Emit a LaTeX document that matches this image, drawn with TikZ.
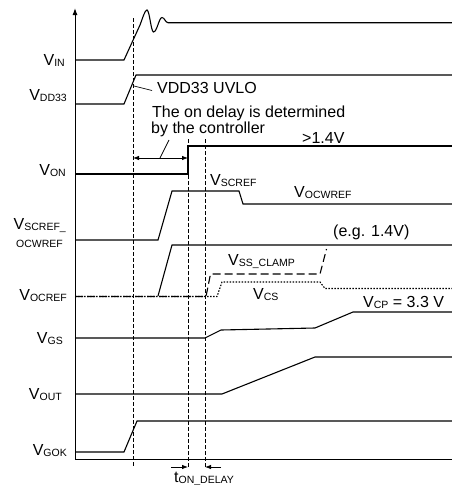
\documentclass[tikz,border=0pt]{standalone}
\usepackage{fontspec}
\setmainfont{Liberation Sans}
\usetikzlibrary{arrows.meta}
\newcommand{\lsb}[1]{\raisebox{-1.8pt}{\fontsize{10.5}{12}\selectfont #1}}
\begin{document}
\begin{tikzpicture}[x=1pt,y=-1pt,
  sig/.style={line width=1.1pt, line join=miter},
  axisline/.style={line width=1pt},
  guide/.style={line width=0.7pt, dash pattern=on 4pt off 2pt},
  clampline/.style={line width=1.1pt, dash pattern=on 8pt off 4pt},
  csline/.style={line width=1.1pt, dash pattern=on 1.5pt off 1.5pt},
  thin/.style={line width=0.7pt},
  arr/.style={line width=0.8pt, -{Latex[length=6pt,width=4.5pt]}},
  darr/.style={line width=0.8pt, {Latex[length=6pt,width=4.5pt]}-{Latex[length=6pt,width=4.5pt]}},
  lbl/.style={inner sep=0pt, font=\fontsize{16}{18}\selectfont},
  slbl/.style={inner sep=0pt, font=\fontsize{10.5}{12}\selectfont}]
\useasboundingbox (0,0) rectangle (452,485);

% axes
\coordinate (o) at (75,459);
\coordinate (top) at (75,8);
\coordinate (xr) at (452,459);
\draw[axisline,-{Latex[length=7pt,width=5pt]}] (o) -- (top);
\draw[axisline] (o) -- (xr);

% guide lines
\coordinate (g1t) at (133,18);  \coordinate (g1b) at (133,467);
\coordinate (g2t) at (188,139); \coordinate (g2b) at (188,468);
\coordinate (g3t) at (205,139); \coordinate (g3b) at (205,468);
\draw[guide] (g1t) -- (g1b);
\draw[guide] (g2t) -- (g2b);
\draw[guide] (g3t) -- (g3b);

% left labels
\node[lbl,anchor=base east] (lin) at (65,65) {V\lsb{IN}};
\node[lbl,anchor=base east] (ldd) at (67,100) {V\lsb{DD33}};
\node[lbl,anchor=base east] (lon) at (66,175) {V\lsb{ON}};
\node[lbl,anchor=base east] (lsc) at (66,229) {V\lsb{SCREF\_}};
\node[slbl,anchor=base east] (lsc2) at (63,247) {OCWREF};
\node[lbl,anchor=base east] (loc) at (67,300) {V\lsb{OCREF}};
\node[lbl,anchor=base east] (lgs) at (63,343) {V\lsb{GS}};
\node[lbl,anchor=base east] (lout) at (62,399) {V\lsb{OUT}};
\node[lbl,anchor=base east] (lgok) at (67,455) {V\lsb{GOK}};

% V_IN
\draw[sig] (75,60) -- (124,60) -- (140,25)
  .. controls (143,17) and (145,10) .. (147,10)
  .. controls (149.5,10) and (151,32) .. (153.5,32)
  .. controls (157,32) and (159,17.5) .. (162,17.5)
  .. controls (164.5,17.5) and (165.5,22.7) .. (168,22.7) -- (452,22.7);

% V_DD33
\draw[sig] (75,104) -- (124,104) -- (136,75) -- (452,75);
\coordinate (uvs) at (134,86);
\node[lbl,anchor=base west] (uvlo) at (157,93) {VDD33 UVLO};
\draw[thin] (uvs) -- (152,90.5);

% on delay text
\node[lbl,anchor=base west] (ond1) at (152,117) {The on delay is determined};
\node[lbl,anchor=base west] (ond2) at (151,133) {by the controller};
\coordinate (da) at (133,158);
\coordinate (db) at (188,158);
\draw[darr] (da) -- (db);
\coordinate (dl1) at (160,158);
\coordinate (dl2) at (169,140);
\draw[thin] (dl1) -- (dl2);

% V_ON
\draw[sig] (75,174) -- (188,174) -- (188,146) -- (452,146);
\node[lbl,anchor=base west] (gt) at (302,143) {>1.4V};

% V_SCREF_OCWREF
\draw[sig] (75,240) -- (158,240) -- (172,191) -- (239,191) -- (243,204) -- (452,204);
\node[lbl,anchor=base west] (scref) at (210,185) {V\lsb{SCREF}};
\node[lbl,anchor=base west] (ocw) at (294,197) {V\lsb{OCWREF}};

% V_OCREF
\draw[sig] (158,296) -- (172,245) -- (452,245);
\node[lbl,anchor=base west] (eg) at (333,236) {(e.g. 1.4V)};
\draw[clampline] (75,296.5) -- (206,296.5) -- (210.5,274) -- (320,274) -- (326.5,249);
\draw[csline] (75,296.5) -- (217,296.5) -- (222,282) -- (320,282) -- (325,288.5) -- (452,288.5);
\node[lbl,anchor=base west] (ssc) at (228,265) {V\lsb{SS\_CLAMP}};
\node[lbl,anchor=base west] (vcs) at (253,299) {V\lsb{CS}};

% V_GS
\draw[sig] (75,338) -- (205,338) -- (221,330) -- (315,328) -- (353,312) -- (452,312);
\node[lbl,anchor=base west] (vcp) at (363,307) {V\lsb{CP} = 3.3 V};

% V_OUT
\draw[sig] (75,394) -- (222,394) -- (315,357) -- (452,357);

% V_GOK
\draw[sig] (75,452) -- (124,452) -- (137,421) -- (452,421);

% t_ON_DELAY
\coordinate (t1s) at (171,467); \coordinate (t1e) at (188,467);
\coordinate (t2s) at (221,467); \coordinate (t2e) at (205,467);
\draw[arr] (t1s) -- (t1e);
\draw[arr] (t2s) -- (t2e);
\node[lbl,anchor=base west] (ton) at (174,482) {t\lsb{ON\_DELAY}};
\end{tikzpicture}
\end{document}
